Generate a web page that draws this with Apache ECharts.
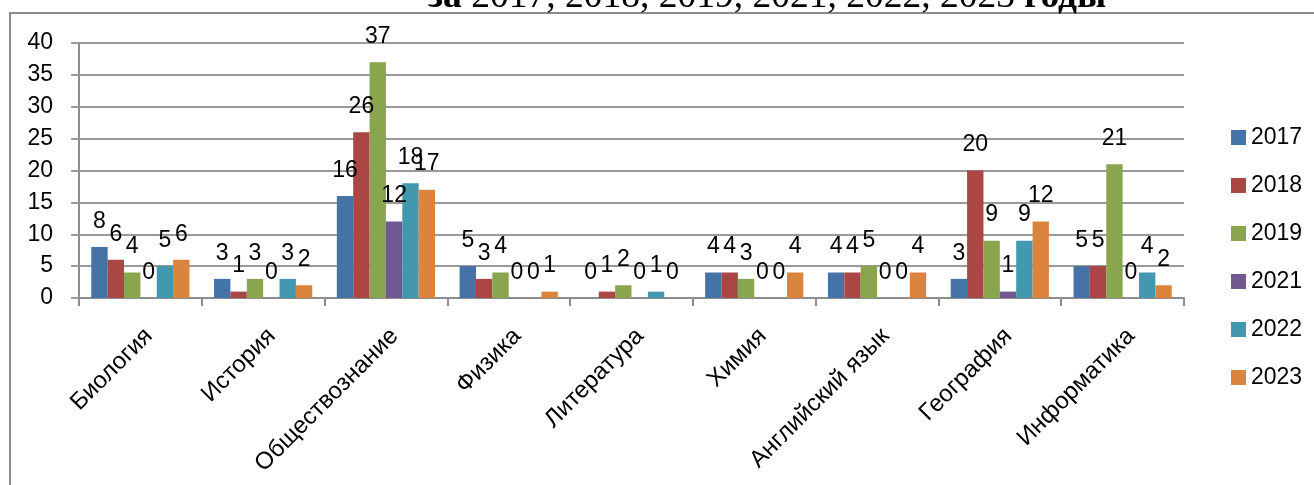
<!DOCTYPE html>
<html>
<head>
<meta charset="utf-8">
<title>chart</title>
<script src="https://cdn.jsdelivr.net/npm/echarts@6/dist/echarts.min.js"></script>
<style>
    html, body { margin: 0; padding: 0; background: #fff; }
    #chart { width: 1314px; height: 485px; }
</style>
</head>
<body>
<div id="chart"></div>
<script>
// предметы
var categories = ['Биология', 'История', 'Обществознание', 'Физика', 'Литература',
    'Химия', 'Английский язык', 'География', 'Информатика'];
// годы (легенда)
var years = ['2017', '2018', '2019', '2021', '2022', '2023'];
// значения по годам
var data2017 = [8, 3, 16, 5, 0, 4, 4, 3, 5];
var data2018 = [6, 1, 26, 3, 1, 4, 4, 20, 5];
var data2019 = [4, 3, 37, 4, 2, 3, 5, 9, 21];
var data2021 = [0, 0, 12, 0, 0, 0, 0, 1, 0];
var data2022 = [5, 3, 18, 0, 1, 0, 0, 9, 4];
var data2023 = [6, 2, 17, 1, 0, 4, 4, 12, 2];
var yTicks = [0, 5, 10, 15, 20, 25, 30, 35, 40];

var colors = ['#4572A7', '#AA4643', '#89A54E', '#71588F', '#4198AF', '#DB843D'];
var seriesData = [data2017, data2018, data2019, data2021, data2022, data2023];

function buildSeries() {
    var arr = [];
    for (var i = 0; i < years.length; i++) {
        arr.push({
            name: years[i],
            type: 'bar',
            barGap: 0,
            barCategoryGap: '20%',
            data: seriesData[i],
            itemStyle: { color: colors[i] },
            label: {
                show: true,
                position: 'top',
                distance: 14,
                color: '#000',
                fontSize: 23,
                lineHeight: 23,
                fontFamily: 'Liberation Sans'
            }
        });
    }
    return arr;
}

var chartsObj = echarts.init(document.getElementById('chart'));
var option = {
    animation: false,
    color: colors,
    textStyle: { fontFamily: 'Liberation Sans' },
    title: {
        text: '{b|за} 2017, 2018, 2019, 2021, 2022, 2023 {b|годы}',
        left: 428,
        top: -24,
        padding: 0,
        textStyle: {
            fontFamily: 'Liberation Serif',
            fontSize: 37.5,
            fontWeight: 'normal',
            color: '#000',
            lineHeight: 42,
            rich: {
                b: { fontFamily: 'Liberation Serif', fontSize: 37.5, fontWeight: 'bold', color: '#000', lineHeight: 42 }
            }
        }
    },
    // рамка вокруг диаграммы
    graphic: [{
        type: 'rect',
        shape: { x: 10, y: 13, width: 1400, height: 600 },
        style: { fill: 'none', stroke: '#8c8c8c', lineWidth: 2 },
        silent: true
    }],
    legend: {
        data: years,
        orient: 'vertical',
        left: 1226,
        top: 121,
        itemWidth: 15,
        itemHeight: 15,
        itemGap: 25,
        icon: 'rect',
        textStyle: { fontSize: 23, lineHeight: 23, color: '#000', fontFamily: 'Liberation Sans' }
    },
    grid: {
        left: 79,
        right: 130,
        top: 43,
        bottom: 187,
        outerBoundsMode: 'none'
    },
    xAxis: {
        type: 'category',
        data: categories,
        axisLine: { lineStyle: { color: '#8c8c8c', width: 2 } },
        axisTick: { show: true, length: 8, lineStyle: { color: '#8c8c8c', width: 2 } },
        axisLabel: {
            interval: 0,
            rotate: 45,
            align: 'right',
            verticalAlign: 'top',
            margin: 26,
            fontSize: 24,
            color: '#000',
            fontFamily: 'Liberation Sans'
        }
    },
    yAxis: {
        type: 'value',
        min: yTicks[0],
        max: yTicks[yTicks.length - 1],
        interval: 5,
        axisLine: { show: true, lineStyle: { color: '#8c8c8c', width: 2 } },
        axisTick: { show: true, length: 8, lineStyle: { color: '#9a9a9a', width: 2 } },
        splitLine: { lineStyle: { color: '#9a9a9a', width: 2 } },
        axisLabel: { margin: 26, fontSize: 23, color: '#000', fontFamily: 'Liberation Sans' }
    },
    series: buildSeries()
};
chartsObj.setOption(option);
</script>
</body>
</html>
